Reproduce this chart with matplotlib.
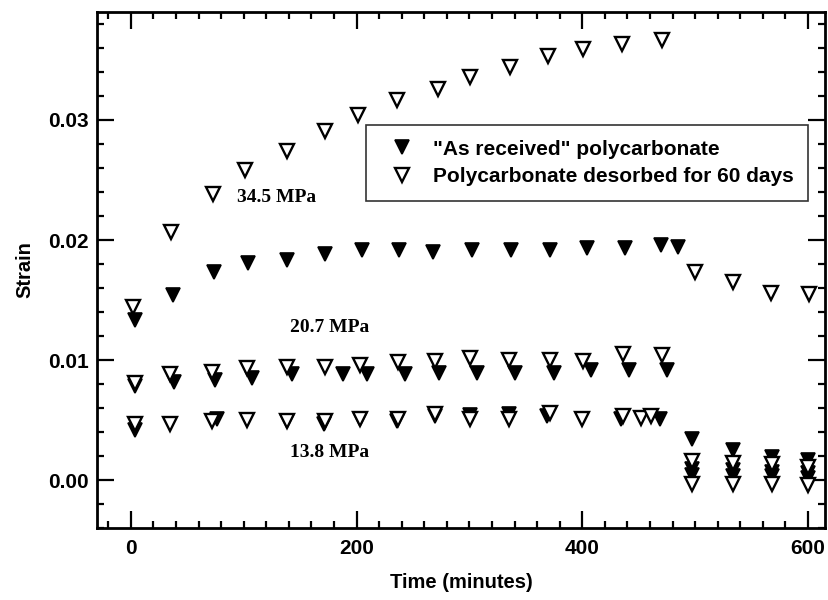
import matplotlib
matplotlib.use('Agg')
import matplotlib.pyplot as plt
from matplotlib.ticker import MultipleLocator

# "as received" (filled) and desorbed 60 days (open), per stress level
t_recv_345 = [3.5, 37.5, 73.6, 104, 138.6, 172, 204.5, 238, 267.5, 302, 337, 371, 404, 438, 470, 485, 497, 534, 568, 600]
s_recv_345 = [0.0133, 0.0154, 0.0173, 0.0181, 0.0183, 0.0188, 0.0192, 0.0192, 0.0190, 0.0192, 0.0192, 0.0192, 0.0193, 0.0193, 0.0196, 0.0194, 0.0034, 0.0025, 0.0019, 0.0017]
t_des_345 = [2, 35.5, 73, 101, 138, 172, 201.5, 235.5, 272, 300.5, 336, 370, 401, 435, 471, 500, 534, 567, 601]
s_des_345 = [0.0144, 0.0207, 0.0238, 0.0258, 0.0274, 0.0291, 0.0304, 0.0317, 0.0326, 0.0336, 0.0344, 0.0353, 0.0359, 0.0363, 0.0367, 0.0173, 0.0165, 0.0156, 0.0155]

t_recv_207 = [4, 38, 75, 107, 142.5, 188, 209, 243, 273.5, 306.5, 340.5, 375, 407.5, 441, 475, 497, 534, 568, 600]
s_recv_207 = [0.0078, 0.0082, 0.0083, 0.0085, 0.0088, 0.0088, 0.0088, 0.0088, 0.0089, 0.0089, 0.0089, 0.0089, 0.0092, 0.0092, 0.0092, 0.0009, 0.0008, 0.0007, 0.0006]
t_des_207 = [4, 35, 72, 103, 138, 172, 203, 237, 269.5, 300.5, 335, 371, 401, 436.5, 470.5, 497, 534, 568, 600]
s_des_207 = [0.0081, 0.0088, 0.0090, 0.0093, 0.0094, 0.0094, 0.0096, 0.0098, 0.0099, 0.0102, 0.0100, 0.0100, 0.0099, 0.0105, 0.0104, 0.0016, 0.0014, 0.0013, 0.0011]

t_recv_138 = [4, 76, 138, 171, 203, 235.5, 269.5, 300.5, 335, 368.5, 434, 469, 497, 534, 568, 600]
s_recv_138 = [0.0042, 0.0051, 0.0049, 0.0047, 0.0051, 0.0049, 0.0053, 0.0054, 0.0055, 0.0053, 0.0051, 0.0051, 0.0004, 0.0003, 0.0003, 0.0002]
t_des_138 = [4, 34.5, 72, 103, 138, 172, 203, 237, 269.5, 300.5, 335, 371.5, 400, 436.5, 452, 461, 497, 534, 568, 600]
s_des_138 = [0.0047, 0.0047, 0.0049, 0.0050, 0.0049, 0.0049, 0.0051, 0.0051, 0.0055, 0.0051, 0.0051, 0.0056, 0.0051, 0.0053, 0.0052, 0.0053, -0.0003, -0.0003, -0.0003, -0.0004]

stress_labels = ['34.5 MPa', '20.7 MPa', '13.8 MPa']
label_t = [129, 176, 176]
label_s = [0.0235, 0.0127, 0.0023]

plt.rcParams['font.family'] = ['Liberation Sans', 'DejaVu Sans']
plt.rcParams['font.weight'] = 'bold'

fig = plt.figure(figsize=(8.29, 6), dpi=100)
ax = fig.add_axes([0.117, 0.12, 0.878, 0.86])

ms = 9.5
fill_kw = dict(marker='v', ls='none', ms=ms, color='black', mec='black', mew=1.2)
open_kw = dict(marker='v', ls='none', ms=ms, mfc='white', mec='black', mew=1.7)

ax.plot(t_recv_345, s_recv_345, label='"As received" polycarbonate', **fill_kw)
ax.plot(t_recv_207, s_recv_207, **fill_kw)
ax.plot(t_recv_138, s_recv_138, **fill_kw)
ax.plot(t_des_345, s_des_345, label='Polycarbonate desorbed for 60 days', **open_kw)
ax.plot(t_des_207, s_des_207, **open_kw)
ax.plot(t_des_138, s_des_138, **open_kw)

for lab, x, y in zip(stress_labels, label_t, label_s):
    ax.text(x, y, lab, family=['Liberation Serif'], fontweight='bold', fontsize=14,
            ha='center', va='center')

ax.set_xlim(-30, 615)
ax.set_ylim(-0.004, 0.039)
ax.xaxis.set_major_locator(MultipleLocator(200))
ax.xaxis.set_minor_locator(MultipleLocator(20))
ax.yaxis.set_major_locator(MultipleLocator(0.01))
ax.yaxis.set_minor_locator(MultipleLocator(0.002))
ax.yaxis.set_major_formatter(plt.FormatStrFormatter('%.2f'))

ax.tick_params(which='both', direction='in', top=True, right=True, width=1.6,
               labelsize=15)
ax.tick_params(axis='x', pad=8)
ax.tick_params(axis='y', pad=6)
ax.tick_params(which='major', length=12)
ax.tick_params(which='minor', length=5)
for sp in ax.spines.values():
    sp.set_linewidth(2)

ax.set_xlabel('Time (minutes)', fontsize=14.5, fontweight='bold', labelpad=11)
ax.set_ylabel('Strain', fontsize=14.5, fontweight='bold', labelpad=10)

leg = ax.legend(loc='upper right', bbox_to_anchor=(0.977, 0.781), fontsize=15,
                frameon=True, fancybox=False, edgecolor='black', handletextpad=0.5,
                handlelength=2, borderpad=0.7, labelspacing=0.4, borderaxespad=0)
leg.get_frame().set_linewidth(1.2)

fig.savefig('out.png', dpi=100)
